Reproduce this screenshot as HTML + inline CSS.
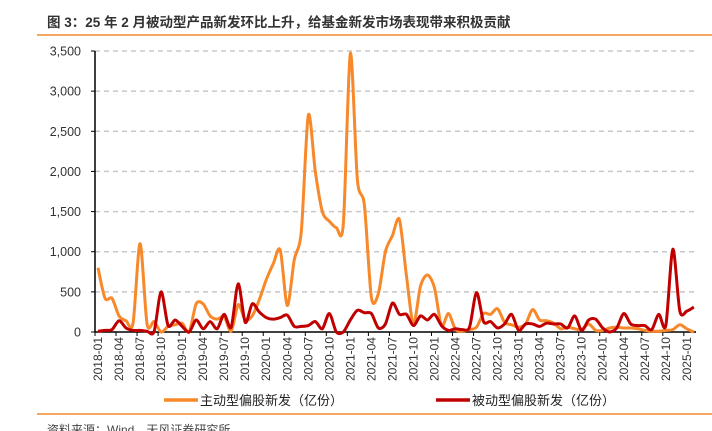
<!DOCTYPE html>
<html><head><meta charset="utf-8">
<style>
body{margin:0;background:#fff;width:712px;height:431px;overflow:hidden;font-family:"Liberation Sans","Noto Sans CJK SC",sans-serif;}
svg{display:block}
</style></head>
<body>
<svg width="712" height="431" viewBox="0 0 712 431" xmlns="http://www.w3.org/2000/svg">
<text x="47" y="27" font-size="13.5" font-weight="bold" fill="#333" font-family="Liberation Sans, Noto Sans CJK SC, sans-serif">图 3：25 年 2 月被动型产品新发环比上升，给基金新发市场表现带来积极贡献</text>
<line x1="37" y1="35" x2="712" y2="35" stroke="#f28a2e" stroke-width="1.5"/>
<g id="grid"></g>
<g id="yaxis"></g>
<g id="xaxis"></g>
<g id="series"></g>
<g>
  <line x1="164" y1="400" x2="198" y2="400" stroke="#f7892a" stroke-width="3.5"/>
  <text x="200" y="405" font-size="13" fill="#222">主动型偏股新发（亿份）</text>
  <line x1="436" y1="400" x2="470" y2="400" stroke="#c00000" stroke-width="3.5"/>
  <text x="472" y="405" font-size="13" fill="#222">被动型偏股新发（亿份）</text>
</g>
<line x1="37" y1="414" x2="712" y2="414" stroke="#f28a2e" stroke-width="1.5"/>
<text x="47" y="434" font-size="12" fill="#444">资料来源：Wind，天风证券研究所</text>
</svg>
<script>
const activeValues=[800,420,420,200,140,110,1100,100,130,0,70,90,110,0,350,350,200,160,190,10,340,150,200,400,650,850,1020,330,900,1250,2700,2000,1500,1380,1300,1350,3470,1900,1580,430,480,1000,1200,1400,700,100,570,710,550,80,230,30,10,30,60,230,220,290,120,90,60,100,280,150,140,110,40,60,40,30,100,20,20,50,60,50,50,40,20,10,10,20,30,90,40,0];
const passiveValues=[10,20,30,140,50,20,20,10,5,500,80,150,70,0,150,40,130,40,220,60,600,120,350,250,180,160,180,210,70,70,80,130,40,230,0,0,150,270,240,230,50,100,360,220,220,80,200,150,220,80,20,40,30,60,490,130,130,50,100,220,20,100,100,70,110,100,100,50,200,20,150,160,50,0,50,230,100,80,80,30,220,80,1030,260,260,310];
const yTicks=[0,500,1000,1500,2000,2500,3000,3500];
const yTickLabels=["0","500","1,000","1,500","2,000","2,500","3,000","3,500"];
const startYear=2018,startMonth=1;
const NS="http://www.w3.org/2000/svg";
const X0=98,STEP=7.01,Y0=332,YTOP=51,YMAX=3500,AX=95,AXR=696;
function xs(i){return X0+i*STEP;}
function ys(v){return Y0-(v/YMAX)*(Y0-YTOP);}
function mk(tag,attrs,parent){const e=document.createElementNS(NS,tag);for(const k in attrs)e.setAttribute(k,attrs[k]);parent.appendChild(e);return e;}
const grid=document.getElementById('grid'),yax=document.getElementById('yaxis'),xax=document.getElementById('xaxis'),ser=document.getElementById('series');
yTicks.forEach((t,k)=>{
  const y=ys(t);
  if(t>0){const g=mk('line',{x1:AX,y1:y,x2:AXR,y2:y,stroke:'#c8c8c8','stroke-width':1.5,'stroke-dasharray':'5,4'},grid);
  
  }
  const tk=mk('line',{x1:AX-4,y1:y,x2:AX,y2:y,stroke:'#000','stroke-width':1},yax);
  
  
  const tx=mk('text',{x:81,y:y+4.5,'font-size':12.5,fill:'#333','text-anchor':'end'},yax);
  tx.textContent=yTickLabels[k];
  
  
});
const ya=mk('line',{x1:AX,y1:YTOP,x2:AX,y2:Y0,stroke:'#000','stroke-width':1.5},yax);


const xa=mk('line',{x1:AX,y1:Y0,x2:AXR,y2:Y0,stroke:'#000','stroke-width':1.5},xax);


const n=activeValues.length;
for(let i=0;i<n;i+=3){
  const bx=AX+i*STEP;
  const tk=mk('line',{x1:bx,y1:Y0,x2:bx,y2:Y0+4,stroke:'#000','stroke-width':1},xax);
  
  
  const m=(startMonth-1+i)%12+1,yr=startYear+Math.floor((startMonth-1+i)/12);
  const lbl=yr+'-'+String(m).padStart(2,'0');
  const x=xs(i)+4,y=337;
  const tx=mk('text',{x:x,y:y,'font-size':12,fill:'#333','text-anchor':'end',transform:'rotate(-90 '+x+' '+y+')'},xax);
  tx.textContent=lbl;
  
  
}
function smooth(vals){
  const p=vals.map((v,i)=>[xs(i),ys(v)]);
  let d='M'+p[0][0]+','+p[0][1];
  for(let i=0;i<p.length-1;i++){
    const p0=p[i-1]||p[i],p1=p[i],p2=p[i+1],p3=p[i+2]||p2,t=1/7;
    d+=' C'+(p1[0]+(p2[0]-p0[0])*t)+','+(p1[1]+(p2[1]-p0[1])*t)+' '+(p2[0]-(p3[0]-p1[0])*t)+','+(p2[1]-(p3[1]-p1[1])*t)+' '+p2[0]+','+p2[1];
  }
  return d;
}
const la=mk('path',{d:smooth(activeValues),fill:'none',stroke:'#f7892a','stroke-width':3,'stroke-linejoin':'round'},ser);


const lp=mk('path',{d:smooth(passiveValues),fill:'none',stroke:'#c00000','stroke-width':3,'stroke-linejoin':'round'},ser);


</script>
</body></html>
